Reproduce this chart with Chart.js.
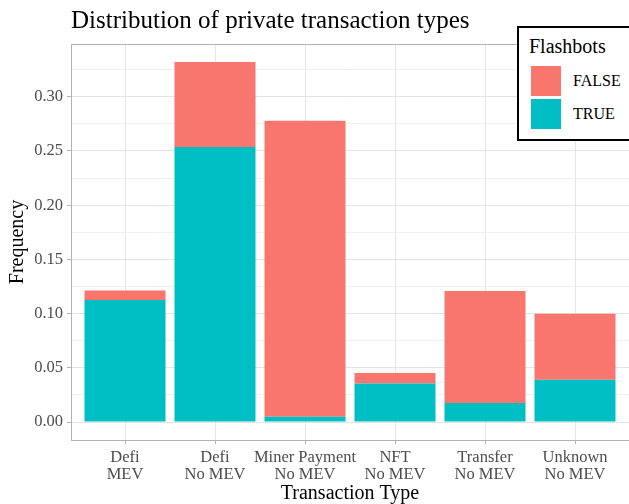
<!DOCTYPE html>
<html>
<head>
<meta charset="utf-8">
<script src="https://cdn.jsdelivr.net/npm/chart.js@4"></script>
<style>
  html, body { margin: 0; padding: 0; background: #fff; overflow: hidden; }
  #wrap { position: relative; width: 629px; height: 504px; }
  canvas { display: block; }
  #title {
    position: absolute; left: 71px; top: 5px; font-family: "Liberation Serif", "Times New Roman", serif;
    font-size: 25px; line-height: 30px; color: #000; white-space: nowrap;
  }
  #legend {
    position: absolute; left: 517px; top: 26px; width: 130px; height: 111px;
    border: 2px solid #000; background: #fff; font-family: "Liberation Serif", "Times New Roman", serif;
    color: #000;
  }
  #legend .ttl { position: absolute; left: 10px; top: 6px; font-size: 20px; line-height: 24px; }
  #legend .key { position: absolute; left: 12px; width: 30px; height: 30px; }
  #legend .lab { position: absolute; left: 54px; font-size: 16px; line-height: 30px; }
</style>
</head>
<body>
<div id="wrap">
  <canvas id="c" width="629" height="504"></canvas>
  <div id="title">Distribution of private transaction types</div>
  <div id="legend">
    <div class="ttl">Flashbots</div>
    <div class="key" style="top:38px;background:#F8766D"></div>
    <div class="lab" style="top:38px">FALSE</div>
    <div class="key" style="top:71px;background:#00BFC4"></div>
    <div class="lab" style="top:71px">TRUE</div>
  </div>
</div>
<script>
const categories = [["Defi", "MEV"], ["Defi", "No MEV"], ["Miner Payment", "No MEV"], ["NFT", "No MEV"], ["Transfer", "No MEV"], ["Unknown", "No MEV"]];
const trueValues  = [0.1125, 0.2537, 0.0049, 0.0356, 0.0175, 0.0390];
const falseValues = [0.0089, 0.0784, 0.2731, 0.0096, 0.1033, 0.0609];
const yTickValues = [0, 0.025, 0.05, 0.075, 0.10, 0.125, 0.15, 0.175, 0.20, 0.225, 0.25, 0.275, 0.30, 0.325];
const yMajor = [0, 0.05, 0.10, 0.15, 0.20, 0.25, 0.30];

const serif = '"Liberation Serif", "Times New Roman", serif';
const isMajor = v => yMajor.some(m => Math.abs(m - v) < 1e-9);

const panelBorder = {
  id: 'panelBorder',
  afterDatasetsDraw(chart) {
    const a = chart.chartArea, ctx = chart.ctx;
    ctx.save();
    ctx.strokeStyle = '#B3B3B3';
    ctx.lineWidth = 1;
    ctx.strokeRect(a.left + 0.5, a.top + 0.5, a.right - a.left + 2, a.bottom - a.top);
    ctx.restore();
  }
};

new Chart(document.getElementById('c'), {
  type: 'bar',
  data: {
    datasets: [
      { label: 'TRUE', data: trueValues.map((v, i) => ({ x: i + 1, y: v })), backgroundColor: '#00BFC4', borderWidth: 0 },
      { label: 'FALSE', data: falseValues.map((v, i) => ({ x: i + 1, y: v })), backgroundColor: '#F8766D', borderWidth: 0 }
    ]
  },
  options: {
    responsive: false,
    animation: false,
    layout: { padding: { left: 0, right: 0, top: 44, bottom: 0 } },
    datasets: { bar: { barPercentage: 0.9, categoryPercentage: 1.0 } },
    plugins: {
      legend: { display: false },
      tooltip: { enabled: false },
      title: { display: false }
    },
    scales: {
      x: {
        type: 'linear', stacked: true, min: 0.4, max: 6.6, offset: false,
        afterBuildTicks: s => { s.ticks = categories.map((c, i) => ({ value: i + 1 })); },
        afterFit: s => { s.height = 64; },
        ticks: {
          callback: (v) => categories[Math.round(v) - 1],
          color: '#4D4D4D', font: { family: serif, size: 16.5, lineHeight: 1.05 }, padding: 5,
          maxRotation: 0, autoSkip: false
        },
        grid: { offset: false, color: '#E6E6E6', lineWidth: 1, tickColor: '#B3B3B3', tickLength: 4 },
        border: { display: true, color: '#B3B3B3' },
        title: { display: true, text: 'Transaction Type', color: '#000', font: { family: serif, size: 20 }, padding: { top: 0, bottom: -2 } }
      },
      y: {
        stacked: true, min: -0.0166, max: 0.3487,
        afterBuildTicks: s => { s.ticks = yTickValues.map(v => ({ value: v })); },
        afterFit: s => { s.width = 71; },
        ticks: {
          callback: (v) => isMajor(v) ? v.toFixed(2) : '',
          color: '#4D4D4D', font: { family: serif, size: 16.5 }, padding: 4
        },
        grid: {
          color: c => isMajor(c.tick.value) ? '#E3E3E3' : '#F0F0F0',
          lineWidth: 1,
          tickColor: c => isMajor(c.tick.value) ? '#B3B3B3' : 'rgba(0,0,0,0)',
          tickLength: 4
        },
        border: { display: true, color: '#B3B3B3' },
        title: { display: true, text: 'Frequency', color: '#000', font: { family: serif, size: 20 }, padding: { top: 6, bottom: 0 } }
      }
    }
  },
  plugins: [panelBorder]
});
</script>
</body>
</html>
